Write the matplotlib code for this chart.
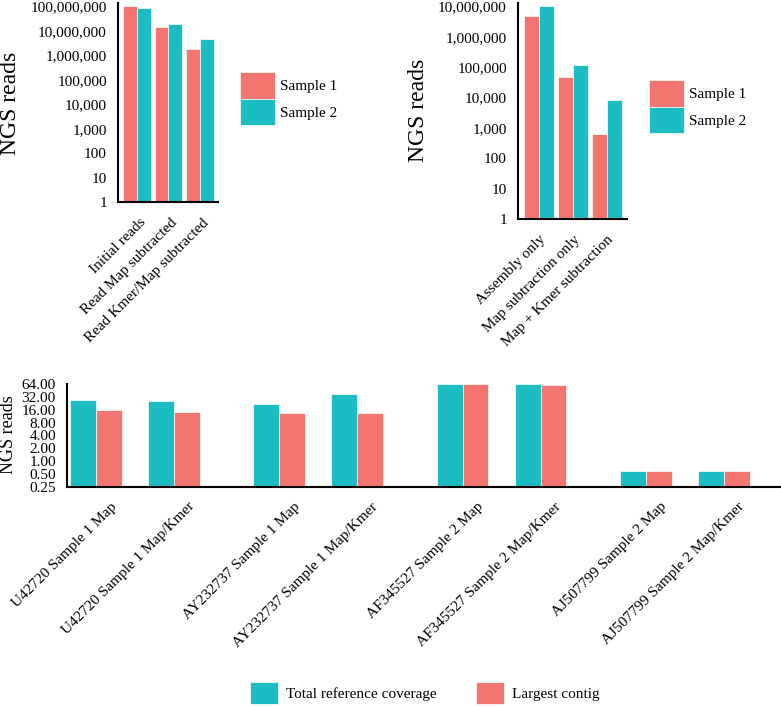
import matplotlib
matplotlib.use('Agg')
import matplotlib.pyplot as plt
import matplotlib.transforms as mtrans
from matplotlib.ticker import FixedLocator, FuncFormatter, NullLocator

plt.rcParams['font.family'] = ['Liberation Serif', 'DejaVu Serif']
plt.rcParams['font.size'] = 11

## data
reads_steps = ['Initial reads', 'Read Map subtracted', 'Read Kmer/Map subtracted']
reads_s1 = [110000000, 14000000, 1900000]
reads_s2 = [90000000, 18500000, 4900000]

assembly_steps = ['Assembly only', 'Map subtraction only', 'Map + Kmer subtraction']
assembly_s1 = [4800000, 49000, 630]
assembly_s2 = [10000000, 120000, 8100]

contig_labels = ['U42720 Sample 1 Map', 'U42720 Sample 1 Map/Kmer',
                 'AY232737 Sample 1 Map', 'AY232737 Sample 1 Map/Kmer',
                 'AF345527 Sample 2 Map', 'AF345527 Sample 2 Map/Kmer',
                 'AJ507799 Sample 2 Map', 'AJ507799 Sample 2 Map/Kmer']
total_coverage = [26.4, 25.4, 21.3, 37.2, 64, 64, 0.6, 0.6]
largest_contig = [15.6, 14.5, 13.6, 13.6, 64, 62, 0.6, 0.6]

red = '#F3756F'
teal = '#1BBCC3'

W, H = 781, 708
fig = plt.figure(figsize=(W / 100, H / 100), dpi=100)


def px_axes(left, top, right, bottom):
    ## pixel box -> figure fraction axes
    return fig.add_axes([left / W, 1 - bottom / H, (right - left) / W, (bottom - top) / H])


def style(ax):
    for s in ['top', 'right']:
        ax.spines[s].set_visible(False)
    for s in ['left', 'bottom']:
        ax.spines[s].set_linewidth(1.5)
        ax.spines[s].set_color('black')
    ax.tick_params(axis='both', length=0, pad=8, labelsize=11)
    ax.yaxis.set_minor_locator(NullLocator())


def shift_labels(ax, dx, dy):
    ## nudge rotated tick labels (in pixels)
    off = mtrans.ScaledTranslation(dx / 100, -dy / 100, fig.dpi_scale_trans)
    for lbl in ax.get_xticklabels():
        lbl.set_transform(lbl.get_transform() + off)


comma = FuncFormatter(lambda v, p: '{:,.0f}'.format(v))


def top_chart(ax, steps, s1, s2, ytop, ticks, width):
    x = list(range(len(steps)))
    ax.bar([i - width / 2 for i in x], s1, width, color=red, edgecolor='white', linewidth=0.5, label='Sample 1')
    ax.bar([i + width / 2 for i in x], s2, width, color=teal, edgecolor='white', linewidth=0.5, label='Sample 2')
    ax.set_yscale('log')
    ax.set_ylim(1, ytop)
    ax.yaxis.set_major_locator(FixedLocator(ticks))
    ax.yaxis.set_major_formatter(comma)
    ax.set_xticks(x)
    ax.set_xticklabels(steps, rotation=45, ha='right', rotation_mode='anchor')
    style(ax)


## top-left chart
ax1 = px_axes(118, 3, 218, 202)
top_chart(ax1, reads_steps, reads_s1, reads_s2, 1.4e8, [10 ** k for k in range(9)], 0.44)
ax1.set_xlim(-0.6, 2.57)
shift_labels(ax1, 2, 3)
fig.text(11 / W, 1 - 103.5 / H, 'NGS reads', rotation=90, ha='center', va='center', fontsize=17)
h, l = ax1.get_legend_handles_labels()
fig.legend(h, l, loc='upper left', bbox_to_anchor=(240 / W, 1 - 72 / H), frameon=False,
           borderpad=0, borderaxespad=0, handlelength=2.3, handleheight=2.3,
           labelspacing=0, handletextpad=0.35, fontsize=11)

## top-right chart
ax2 = px_axes(518, 3, 627, 219)
top_chart(ax2, assembly_steps, assembly_s1, assembly_s2, 1.3e7, [10 ** k for k in range(8)], 0.45)
ax2.set_xlim(-0.62, 2.59)
shift_labels(ax2, 0, 3)
fig.text(418.5 / W, 1 - 110.5 / H, 'NGS reads', rotation=90, ha='center', va='center', fontsize=17)
h, l = ax2.get_legend_handles_labels()
fig.legend(h, l, loc='upper left', bbox_to_anchor=(649 / W, 1 - 80 / H), frameon=False,
           borderpad=0, borderaxespad=0, handlelength=2.3, handleheight=2.3,
           labelspacing=0, handletextpad=0.35, fontsize=11)

## bottom chart
ax3 = px_axes(67, 384, 780, 487)
pos = [i + (i // 2) * 0.35 for i in range(len(contig_labels))]
bw = 0.333
ax3.bar([p - bw / 2 for p in pos], total_coverage, bw, color=teal, edgecolor='white', linewidth=0.5,
        label='Total reference coverage')
ax3.bar([p + bw / 2 for p in pos], largest_contig, bw, color=red, edgecolor='white', linewidth=0.5,
        label='Largest contig')
ax3.set_yscale('log', base=2)
ax3.set_ylim(0.25, 64)
ax3.yaxis.set_major_locator(FixedLocator([0.25, 0.5, 1, 2, 4, 8, 16, 32, 64]))
ax3.yaxis.set_major_formatter(FuncFormatter(lambda v, p: '%.2f' % v))
ax3.set_xticks(pos)
ax3.set_xticklabels(contig_labels, rotation=45, ha='right', rotation_mode='anchor')
ax3.set_xlim(-0.37, 8.77)
style(ax3)
shift_labels(ax3, 14, 2)
fig.text(8.5 / W, 1 - 435 / H, 'NGS reads', rotation=90, ha='center', va='center', fontsize=13)
h, l = ax3.get_legend_handles_labels()
fig.legend(h, l, loc='upper left', bbox_to_anchor=(250 / W, 1 - 682 / H), frameon=False, ncol=2,
           borderpad=0, borderaxespad=0, handlelength=1.83, handleheight=1.83,
           handletextpad=0.5, columnspacing=2.6, fontsize=11)

fig.savefig('out.png', dpi=100)
